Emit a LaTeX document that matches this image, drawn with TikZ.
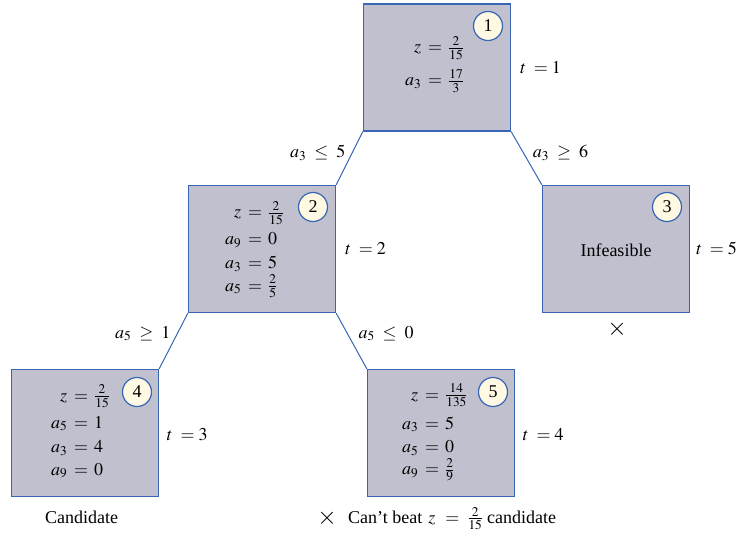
\documentclass[tikz,border=0pt]{standalone}
\usepackage{mathptmx}
\usepackage[no-math]{fontspec}
\setmainfont{Liberation Serif}
\definecolor{boxfill}{RGB}{192,192,206}
\definecolor{boxline}{RGB}{56,102,178}
\definecolor{numfill}{RGB}{255,249,228}
\tikzset{
 bbox/.style={draw=boxline, fill=boxfill, line width=1.3pt, minimum width=147pt, minimum height=127pt, inner sep=0},
 numc/.style={circle, draw=boxline, fill=numfill, line width=1.2pt, minimum size=29pt, inner sep=0},
 conn/.style={draw=boxline, line width=1pt},
 lab/.style={anchor=base west, inner sep=0},
 cross/.style={font=\fontsize{25}{28}\selectfont, inner sep=0},
}
\newcommand\eqrow[2]{\makebox[20pt][r]{$#1$}\hspace{7pt}$=$\hspace{6pt}$#2$}
\newcommand\tlab[1]{$t$\hspace{8pt}$=$\hspace{4pt}$#1$}
\begin{document}
\begin{tikzpicture}[x=1pt,y=-1pt, font=\fontsize{18}{22}\selectfont]
\useasboundingbox (0,0) rectangle (736,537);
% boxes
\node[bbox] (b1) at (437,67.5) {};
\node[bbox] (b2) at (262,249) {};
\node[bbox] (b3) at (616,249) {};
\node[bbox] (b4) at (85,433) {};
\node[bbox] (b5) at (441,433) {};
% connectors
\draw[conn] (b1.south west) -- (b2.north east);
\draw[conn] (b1.south east) -- (b3.north west);
\draw[conn] (b2.south west) -- (b4.north east);
\draw[conn] (b2.south east) -- (b5.north west);
% number circles
\node[numc] (c1) at (488,26) {1};
\node[numc] (c2) at (313,207) {2};
\node[numc] (c3) at (667,207) {3};
\node[numc] (c4) at (137,392) {4};
\node[numc] (c5) at (493,392) {5};
% box 1
\node[lab] (r11) at (401,53) {\eqrow{z}{\frac{2}{15}}};
\node[lab] (r12) at (401,86) {\eqrow{a_3}{\frac{17}{3}}};
% box 2
\node[lab] (r21) at (221,218) {\eqrow{z}{\frac{2}{15}}};
\node[lab] (r22) at (221,245) {\eqrow{a_9}{0}};
\node[lab] (r23) at (221,269) {\eqrow{a_3}{5}};
\node[lab] (r24) at (221,291) {\eqrow{a_5}{\frac{2}{5}}};
% box 3
\node (inf) at (616,250) {Infeasible};
\node[cross] (x3) at (617,329) {$\times$};
% box 4
\node[lab] (r41) at (47,401) {\eqrow{z}{\frac{2}{15}}};
\node[lab] (r42) at (47,428) {\eqrow{a_5}{1}};
\node[lab] (r43) at (47,452.7) {\eqrow{a_3}{4}};
\node[lab] (r44) at (47,475) {\eqrow{a_9}{0}};
% box 5
\node[lab] (r51) at (398,400) {\eqrow{z}{\frac{14}{135}}};
\node[lab] (r52) at (398,429) {\eqrow{a_3}{5}};
\node[lab] (r53) at (398,452.7) {\eqrow{a_5}{0}};
\node[lab] (r54) at (398,474.5) {\eqrow{a_9}{\frac{2}{9}}};
% t labels
\node[lab] (t1) at (520,73.3) {\tlab{1}};
\node[lab] (t2) at (345,255) {\tlab{2}};
\node[lab] (t5) at (696,255) {\tlab{5}};
\node[lab] (t3) at (166.7,440.7) {\tlab{3}};
\node[lab] (t4) at (522.7,440.7) {\tlab{4}};
% branch labels
\node[lab] (e12) at (290,158) {$a_3\;\le\;5$};
\node[lab] (e13) at (532.7,158) {$a_3\;\ge\;6$};
\node[lab] (e24) at (115,338) {$a_5\;\ge\;1$};
\node[lab] (e25) at (358.3,338) {$a_5\;\le\;0$};
% captions
\node[lab] (cand) at (45,523.3) {Candidate};
\node[cross, anchor=center] (xc) at (327,518) {$\times$};
\node[lab] (cant) at (348,523.3) {Can’t beat\hspace{6pt}$z\;\,=\;\frac{2}{15}$\hspace{4pt}candidate};
\end{tikzpicture}
\end{document}
